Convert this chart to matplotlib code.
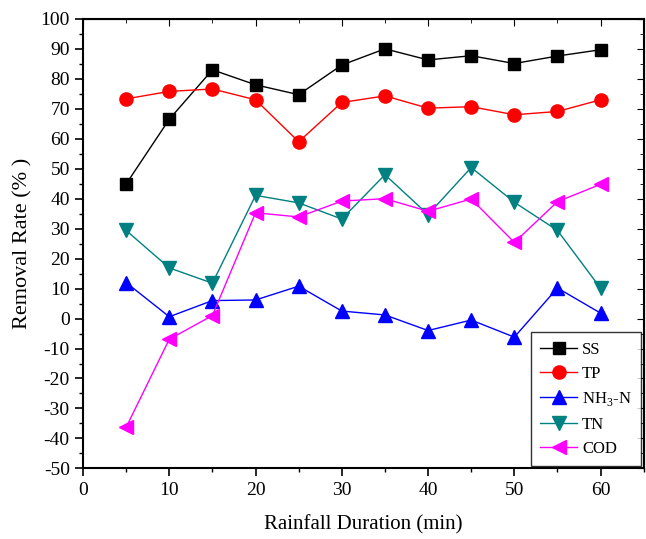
import matplotlib
matplotlib.use("Agg")
import matplotlib.pyplot as plt
from matplotlib.ticker import MultipleLocator

plt.rcParams['font.family'] = ['Liberation Serif', 'DejaVu Serif']
plt.rcParams['mathtext.fontset'] = 'custom'
plt.rcParams['mathtext.rm'] = 'Liberation Serif'
plt.rcParams['axes.unicode_minus'] = False

# Rainfall duration (min)
duration = [5, 10, 15, 20, 25, 30, 35, 40, 45, 50, 55, 60]

# Removal rates (%)
ss = [44.9, 66.5, 83.0, 78.0, 74.7, 84.6, 90.0, 86.3, 87.7, 85.1, 87.6, 89.7]
tp = [73.3, 75.8, 76.6, 73.0, 59.0, 72.1, 74.3, 70.2, 70.7, 68.0, 69.1, 73.0]
nh3n = [12.0, 0.6, 6.0, 6.2, 10.8, 2.5, 1.2, -4.0, -0.5, -6.2, 10.2, 1.8]
tn = [29.4, 16.9, 11.8, 41.1, 38.6, 33.2, 48.0, 34.7, 50.4, 38.8, 29.4, 10.1]
cod = [-36.3, -6.9, 1.0, 35.3, 33.9, 39.2, 40.0, 35.8, 39.9, 25.4, 39.0, 44.8]

fig = plt.figure(figsize=(6.46, 5.39), dpi=100)
ax = fig.add_axes([0.1285, 0.131, 0.868, 0.834])

ax.plot(duration, ss, color='black', marker='s', markersize=8.5, lw=1, label='SS')
ax.plot(duration, tp, color='red', marker='o', markersize=9.5, lw=1, label='TP')
ax.plot(duration, nh3n, color='blue', marker='^', markersize=10, lw=1,
        label=r'NH$_3$-N')
ax.plot(duration, tn, color='#008080', marker='v', markersize=10, lw=1, label='TN')
ax.plot(duration, cod, color='magenta', marker='<', markersize=10, lw=1, label='COD')

ax.set_xlim(0, 65)
ax.set_ylim(-50, 100)
ax.xaxis.set_major_locator(MultipleLocator(10))
ax.xaxis.set_minor_locator(MultipleLocator(5))
ax.yaxis.set_major_locator(MultipleLocator(10))
ax.yaxis.set_minor_locator(MultipleLocator(5))
ax.tick_params(which='major', direction='out', length=6, width=1.2, labelsize=14)
ax.tick_params(which='minor', direction='out', length=3, width=1)
for sp in ax.spines.values():
    sp.set_linewidth(1.5)

# inward ticks on top and right
top = ax.secondary_xaxis('top')
top.xaxis.set_major_locator(MultipleLocator(10))
top.xaxis.set_minor_locator(MultipleLocator(5))
top.tick_params(which='major', direction='in', length=5, labeltop=False)
top.tick_params(which='minor', direction='in', length=3)
right = ax.secondary_yaxis('right')
right.yaxis.set_major_locator(MultipleLocator(10))
right.yaxis.set_minor_locator(MultipleLocator(5))
right.tick_params(which='major', direction='in', length=5, labelright=False)
right.tick_params(which='minor', direction='in', length=3)

ax.set_xlabel('Rainfall Duration (min)', fontsize=15, labelpad=12)
ax.set_ylabel('Removal Rate (% )', fontsize=16, labelpad=6)

leg = ax.legend(loc='lower right', fontsize=12, frameon=True, fancybox=False,
                edgecolor='black', handlelength=2.2, handletextpad=0.3,
                borderpad=0.55, labelspacing=0.5, borderaxespad=0,
                bbox_to_anchor=(0.995, 0.005))
leg.get_frame().set_linewidth(1)

fig.savefig('out.png', dpi=100)
